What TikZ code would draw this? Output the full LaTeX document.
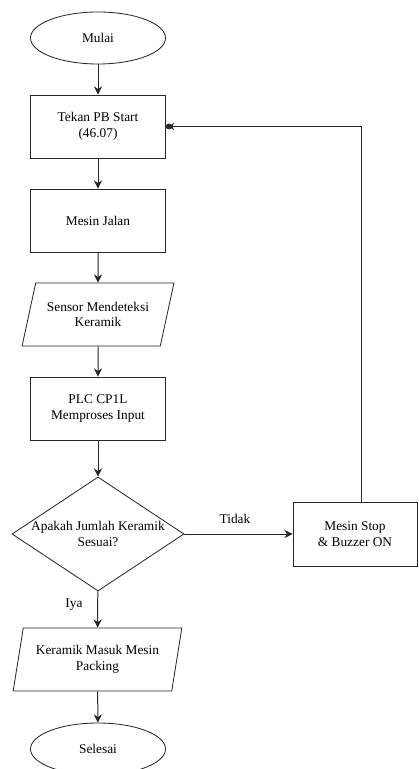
\documentclass[tikz,border=0pt]{standalone}
\usepackage{fontspec}
\setmainfont{Liberation Serif}
\usetikzlibrary{shapes.geometric,arrows.meta}

\begin{document}
\begin{tikzpicture}[x=0.03cm, y=-0.03cm, font=\fontsize{11.4}{13.5}\selectfont,
    shape base/.style={draw=black!85, line width=0.7pt, align=center},
    term/.style={shape base, ellipse, minimum width=4.05cm, minimum height=1.56cm, inner sep=0pt},
    proc/.style={shape base, rectangle, minimum width=4.05cm, minimum height=1.89cm},
    io/.style={shape base, trapezium, trapezium stretches=true, minimum height=1.89cm},
    dec/.style={shape base, diamond, minimum width=5.16cm, minimum height=3.42cm, inner sep=0pt},
    line/.style={draw=black!85, line width=0.85pt, -{Stealth[length=7pt,width=7pt]}},
    back/.style={draw=black!85, line width=0.85pt, -{Stealth[length=5pt,width=6pt,sep=-3pt]Circle[length=5pt]}}]
    \useasboundingbox (0,0) rectangle (418,769);
    % main column
    \node [term] (mulai) at (98,38) {Mulai};
    \node [proc] (tekan) at (98,126.5) {Tekan PB Start\\(46.07)};
    \node [proc] (jalan) at (98,220.5) {Mesin Jalan};
    \node [io, minimum width=4.56cm, trapezium left angle=70, trapezium right angle=110] (sensor) at (98,314.5) {Sensor Mendeteksi\\Keramik};
    \node [proc] (plc) at (98,408.5) {PLC CP1L\\Memproses Input};
    \node [dec, label={[align=center]center:Apakah Jumlah Keramik\\Sesuai?}] (cek) at (98,534) {};
    \node [io, minimum width=5.07cm, trapezium left angle=76, trapezium right angle=104] (packing) at (97.5,659.5) {Keramik Masuk Mesin\\Packing};
    \node [term] (selesai) at (98,749) {Selesai};
    % stop branch
    \node [proc, minimum width=3.72cm, minimum height=1.92cm] (stop) at (355,534) {Mesin Stop\\\& Buzzer ON};
    \coordinate (naik) at (361,127);
    % labels
    \node (tidak) at (235,519) {Tidak};
    \node (iya) at (74,605) {Iya};
    % connectors
    \path[line] (mulai) -- (tekan);
    \path[line] (tekan) -- (jalan);
    \path[line] (jalan) -- (sensor);
    \path[line] (sensor) -- (plc);
    \path[line] (plc) -- (cek);
    \path[line] (cek) -- (stop);
    \path[line] (cek) -- (packing);
    \path[line] (packing) -- (selesai);
    \path[back] (stop.north -| naik) |- (tekan);
\end{tikzpicture}
\end{document}
